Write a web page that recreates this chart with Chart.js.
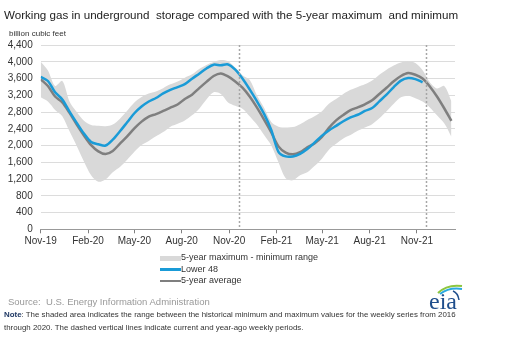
<!DOCTYPE html>
<html>
<head>
<meta charset="utf-8">
<script src="https://cdn.jsdelivr.net/npm/chart.js@4.4.1/dist/chart.umd.min.js"></script>
<style>
  html, body { margin: 0; padding: 0; background: #fff; }
  #wrap { position: relative; width: 507px; height: 341px; overflow: hidden; font-family: "Liberation Sans", Arial, sans-serif; }
  #chart { position: absolute; left: 0; top: 0; }
  .title { position: absolute; left: 4px; top: 8px; font-size: 11.6px; color: #222; white-space: nowrap; }
  .unit { position: absolute; left: 9px; top: 29px; font-size: 8px; color: #333; white-space: nowrap; }
  .legend { position: absolute; left: 160px; top: 252px; font-size: 9px; color: #333; }
  .legend div { position: relative; height: 11.5px; line-height: 11.5px; white-space: nowrap; padding-left: 21px; }
  .legend span { position: absolute; left: 0; width: 21px; }
  .source { position: absolute; left: 8px; top: 296px; font-size: 9.5px; color: #999; white-space: nowrap; }
  .note { position: absolute; left: 4px; top: 309px; font-size: 7.9px; line-height: 12.7px; color: #333; white-space: nowrap; }
  .note b { color: #1f3864; }
  .logo { position: absolute; left: 426px; top: 282px; }
</style>
</head>
<body>
<div id="wrap">
  <canvas id="chart" width="507" height="341"></canvas>
  <div class="title">Working gas in underground&nbsp; storage compared with the 5-year maximum&nbsp; and minimum</div>
  <div class="unit">billion cubic feet</div>
  <div class="legend">
    <div><span style="top:3.5px;height:5px;background:#d9d9d9"></span>5-year maximum - minimum range</div>
    <div><span style="top:4.5px;height:3px;background:#1a9bd7"></span>Lower 48</div>
    <div><span style="top:5px;height:2px;background:#7f7f7f"></span>5-year average</div>
  </div>
  <div class="source">Source:&nbsp; U.S. Energy Information Administration</div>
  <div class="note"><b>Note</b>: The shaded area indicates the range between the historical minimum and maximum values for the weekly series from 2016<br>through 2020. The dashed vertical lines indicate current and year-ago weekly periods.</div>
  <svg class="logo" width="40" height="30" viewBox="0 0 40 30">
    <path d="M12 11 Q21 2 36 4" stroke="#8dc63f" stroke-width="2" fill="none"/>
    <path d="M14 12 Q23 5 36 7" stroke="#29a9e0" stroke-width="2" fill="none"/>
    <path d="M27 9 Q32 11 33 18" stroke="#1f4e8c" stroke-width="1.5" fill="none"/>
    <text x="3" y="27" font-family="Liberation Serif, serif" font-size="24" fill="#1f4e8c">eia</text>
  </svg>
</div>
<script>
// weeks since 1 Nov 2019, every second week
const weeks = [0, 2, 4, 6, 8, 10, 12, 14, 16, 18, 20, 22, 24, 26, 28, 30, 32, 34, 36, 38,
  40, 42, 44, 46, 48, 50, 52, 54, 56, 58, 60, 62, 64, 66, 68, 70, 72, 74, 76, 78,
  80, 82, 84, 86, 88, 90, 92, 94, 96, 98, 100, 102, 104, 106, 108, 110, 112, 114];

const lower48 = [3640, 3540, 3270, 3100, 2810, 2540, 2285, 2085, 2030, 2000,
  2140, 2340, 2555, 2770, 2930, 3050, 3135, 3245, 3330, 3395,
  3465, 3595, 3715, 3840, 3930, 3915, 3935, 3810, 3600, 3340,
  3060, 2755, 2370, 1850, 1740, 1740, 1800, 1915, 2070, 2230,
  2360, 2470, 2580, 2670, 2735, 2825, 2895, 3055, 3215, 3395,
  3550, 3610, 3585, 3510];

const avg5 = [3580, 3420, 3170, 3030, 2780, 2500, 2240, 2010, 1860, 1795,
  1870, 2045, 2220, 2410, 2570, 2690, 2750, 2825, 2905, 2980,
  3110, 3215, 3370, 3520, 3660, 3720, 3650, 3530, 3380, 3170,
  2910, 2620, 2315, 1980, 1830, 1790, 1840, 1960, 2050, 2200,
  2420, 2600, 2730, 2845, 2910, 2985, 3080, 3230, 3380, 3535,
  3660, 3730, 3690, 3600, 3410, 3170, 2890, 2590];

const max5 = [4000, 3790, 3420, 3540, 3050, 2800, 2590, 2490, 2470, 2460,
  2500, 2640, 2830, 3030, 3160, 3240, 3290, 3370, 3460, 3530,
  3620, 3700, 3830, 3925, 3995, 4040, 4010, 3860, 3680, 3570,
  3200, 2900, 2560, 2450, 2430, 2440, 2510, 2610, 2700, 2815,
  3000, 3110, 3230, 3330, 3400, 3460, 3550, 3690, 3810, 3910,
  3980, 4015, 3970, 3800, 3510, 3360, 3420, 3060];

const min5 = [3150, 3050, 2850, 2700, 2340, 1990, 1620, 1290, 1135, 1190,
  1365, 1490, 1660, 1850, 2010, 2110, 2220, 2320, 2450, 2520,
  2600, 2720, 2880, 3100, 3270, 3230, 3030, 2950, 2880, 2700,
  2500, 2250, 2000, 1600, 1220, 1170, 1290, 1360, 1510, 1680,
  1900, 2040, 2170, 2250, 2350, 2430, 2510, 2650, 2820, 3000,
  3150, 3190, 3130, 3050, 2910, 2720, 2530, 2210];

const tickWeeks = [0, 13.14, 26, 39.14, 52.29, 65.43, 78.14, 91.29, 104.43];
const tickLabels = ['Nov-19', 'Feb-20', 'May-20', 'Aug-20', 'Nov-20', 'Feb-21', 'May-21', 'Aug-21', 'Nov-21'];
const markerWeeks = [55, 107]; // year-ago and current week

const toPoints = (values) => values.map((v, i) => ({ x: weeks[i], y: v }));

const dashedLines = {
  id: 'dashedLines',
  afterDatasetsDraw(chart) {
    const { ctx, chartArea, scales } = chart;
    ctx.save();
    ctx.strokeStyle = '#a6a6a6';
    ctx.lineWidth = 1.5;
    ctx.setLineDash([2, 2]);
    markerWeeks.forEach((w) => {
      const x = Math.round(scales.x.getPixelForValue(w)) + 0.5;
      ctx.beginPath();
      ctx.moveTo(x, chartArea.top);
      ctx.lineTo(x, chartArea.bottom);
      ctx.stroke();
    });
    ctx.restore();
  },
};

new Chart(document.getElementById('chart').getContext('2d'), {
  type: 'line',
  data: {
    datasets: [
      { label: 'Lower 48', data: toPoints(lower48), borderColor: '#1a9bd7', borderWidth: 2.5, pointRadius: 0, tension: 0.3, fill: false },
      { label: '5-year average', data: toPoints(avg5), borderColor: '#7f7f7f', borderWidth: 2.5, pointRadius: 0, tension: 0.3, fill: false },
      { label: 'max', data: toPoints(max5), borderWidth: 0, borderColor: 'rgba(0,0,0,0)', pointRadius: 0, tension: 0.3, fill: false },
      { label: 'min', data: toPoints(min5), borderWidth: 0, borderColor: 'rgba(0,0,0,0)', backgroundColor: '#d9d9d9', pointRadius: 0, tension: 0.3, fill: '-1' },
    ],
  },
  options: {
    responsive: false,
    animation: false,
    devicePixelRatio: 1,
    layout: { padding: { left: 0, top: 45, right: 52, bottom: 91.7 } },
    plugins: { legend: { display: false }, tooltip: { enabled: false } },
    scales: {
      x: {
        type: 'linear',
        min: 0,
        max: 115,
        afterBuildTicks: (axis) => { axis.ticks = tickWeeks.map((v) => ({ value: v })); },
        afterFit: (axis) => { axis.height = 20; },
        grid: { drawOnChartArea: false, drawTicks: true, tickLength: 4, color: '#808080' },
        border: { display: true, color: '#999999', width: 1 },
        ticks: {
          autoSkip: false,
          maxRotation: 0,
          padding: 2,
          color: '#333',
          font: { family: 'Liberation Sans, Arial, sans-serif', size: 10 },
          callback: (value, index) => tickLabels[index],
        },
      },
      y: {
        min: 0,
        max: 4400,
        afterFit: (axis) => { axis.width = 40.7; },
        grid: { color: '#dcdcdc', drawTicks: false },
        border: { display: false },
        ticks: {
          stepSize: 400,
          padding: 8,
          color: '#333',
          font: { family: 'Liberation Sans, Arial, sans-serif', size: 10 },
          callback: (value) => value.toLocaleString('en-US'),
        },
      },
    },
  },
  plugins: [dashedLines],
});
</script>
</body>
</html>
